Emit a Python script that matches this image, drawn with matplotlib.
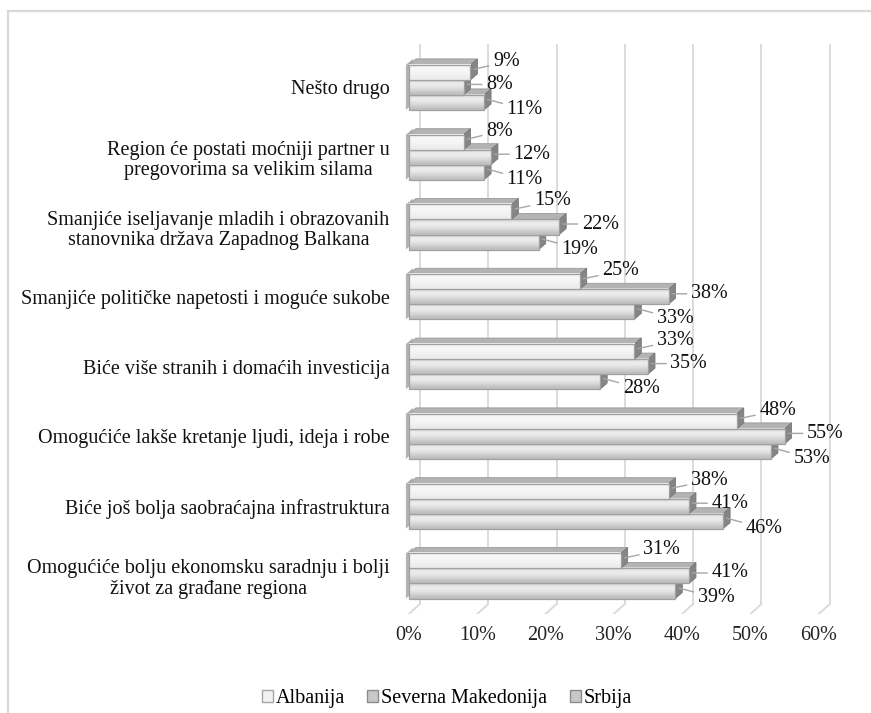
import numpy as np
import matplotlib.pyplot as plt
from matplotlib.patches import Polygon, Patch
from matplotlib.lines import Line2D

plt.rcParams['font.family'] = ['Liberation Serif', 'DejaVu Serif']

categories = [
    "Omogućiće bolju ekonomsku saradnju i bolji\nživot za građane regiona",
    "Biće još bolja saobraćajna infrastruktura",
    "Omogućiće lakše kretanje ljudi, ideja i robe",
    "Biće više stranih i domaćih investicija",
    "Smanjiće političke napetosti i moguće sukobe",
    "Smanjiće iseljavanje mladih i obrazovanih\nstanovnika država Zapadnog Balkana",
    "Region će postati moćniji partner u\npregovorima sa velikim silama",
    "Nešto drugo",
]
albanija = [31, 38, 48, 33, 25, 15, 8, 9]
makedonija = [41, 41, 55, 35, 38, 22, 12, 8]
srbija = [39, 46, 53, 28, 33, 19, 11, 11]
series_names = ["Albanija", "Severna Makedonija", "Srbija"]
xticks = [0, 10, 20, 30, 40, 50, 60]

FS = 14.5
x_lo, x_hi = -1, 62
y_lo, y_hi = -0.544, 7.623

# fake 3d depth (data units)
dxf, dyf = 1.61, 0.143   # floor / walls
dxb, dyb = 1.02, 0.086   # bars
h = 0.215                # bar thickness

fig = plt.figure(figsize=(8.71, 7.13), dpi=100)
ax = fig.add_axes([0.4617, 0.1389, 0.494, 0.7995])

# floor ticks and back gridlines
for t in xticks:
    ax.plot([t, t + dxf], [y_lo, y_lo + dyf], color='#d9d9d9', lw=1.3, zorder=0)
    ax.plot([t + dxf, t + dxf], [y_lo + dyf, y_hi], color='#d9d9d9', lw=1.3, zorder=0)

ypos = np.arange(len(categories))

# left wall pieces behind each group
for y in ypos:
    yb, yt = y - 1.5 * h, y + 1.5 * h
    ax.add_patch(Polygon([(-0.45, yb), (-0.45, yt), (-0.45 + dxb, yt + dyb), (-0.45 + dxb, yb + dyb)],
                         closed=True, facecolor='#b3b3b3', edgecolor='none', zorder=1))

series = [
    # name, values, offset, face base, gradient, z, label offset
    (series_names[2], srbija, -h, '#d6d6d6', [0.84, 0.93, 0.92, 0.87, 0.81, 0.74], 2, -10),
    (series_names[1], makedonija, 0.0, '#d6d6d6', [0.84, 0.93, 0.92, 0.87, 0.81, 0.74], 3, 0),
    (series_names[0], albanija, h, '#f2f2f2', [0.93, 0.97, 0.965, 0.955, 0.94, 0.92], 4, 8),
]

for name, vals, off, base, grad, z, loff in series:
    yc = ypos + off
    bars = ax.barh(yc, vals, height=h, color=base, edgecolor='none', zorder=z)
    for v, y in zip(vals, yc):
        yb, yt = y - h / 2, y + h / 2
        # top face
        ax.add_patch(Polygon([(0, yt), (v, yt), (v + dxb, yt + dyb), (dxb, yt + dyb)],
                             closed=True, facecolor='#b3b3b3', edgecolor='#9a9a9a', lw=0.6, zorder=z))
        # right side
        ax.add_patch(Polygon([(v, yb), (v, yt), (v + dxb, yt + dyb), (v + dxb, yb + dyb)],
                             closed=True, facecolor='#858585', edgecolor='#777777', lw=0.6, zorder=z))
        # face gradient
        ax.imshow(np.array(grad).reshape(-1, 1), extent=(0, v, yb, yt), aspect='auto',
                  cmap='gray', vmin=0, vmax=1, interpolation='bicubic', zorder=z + 0.1)
    ax.barh(yc, vals, height=h, color='none', edgecolor='#a0a0a0', lw=0.9, zorder=z + 0.2)
    for v, y in zip(vals, yc):
        ax.annotate(f"{v}%", xy=(v + dxb * 0.5, y + dyb * 0.5), xytext=(19, loff),
                    textcoords='offset pixels', ha='left', va='center', fontsize=FS,
                    color='#111111', annotation_clip=False, zorder=10,
                    arrowprops=dict(arrowstyle='-', color='#a6a6a6', lw=1.0, shrinkA=1, shrinkB=0))

ax.set_xlim(x_lo, x_hi)
ax.set_ylim(y_lo, y_hi)
ax.set_xticks(xticks)
ax.set_xticklabels([f"{t}%" for t in xticks], fontsize=FS, color='#222222')
ax.set_yticks(ypos)
ax.set_yticklabels(categories, fontsize=FS, linespacing=1.1, color='#111111')
for lbl in ax.get_yticklabels():
    lbl.set_multialignment('center')
ax.tick_params(axis='x', length=0, pad=9)
ax.tick_params(axis='y', length=0, pad=9)
for s in ax.spines.values():
    s.set_visible(False)

# outer chart border (left and top visible)
fig.add_artist(Line2D([8 / 871, 8 / 871], [0, 1 - 11 / 713], transform=fig.transFigure,
                      color='#d9d9d9', lw=1.6))
fig.add_artist(Line2D([8 / 871, 1], [1 - 11 / 713, 1 - 11 / 713], transform=fig.transFigure,
                      color='#d9d9d9', lw=1.6))

handles = [
    Patch(facecolor='#f2f2f2', edgecolor='#a6a6a6'),
    Patch(facecolor='#c8c8c8', edgecolor='#8c8c8c'),
    Patch(facecolor='#c8c8c8', edgecolor='#8c8c8c'),
]
fig.legend(handles, series_names, loc='center', bbox_to_anchor=(0.513, 0.02), ncol=3,
           frameon=False, fontsize=FS, handlelength=0.55, handleheight=0.55,
           handletextpad=0.15, columnspacing=1.1, borderaxespad=0)

fig.savefig('out.png', dpi=100)
